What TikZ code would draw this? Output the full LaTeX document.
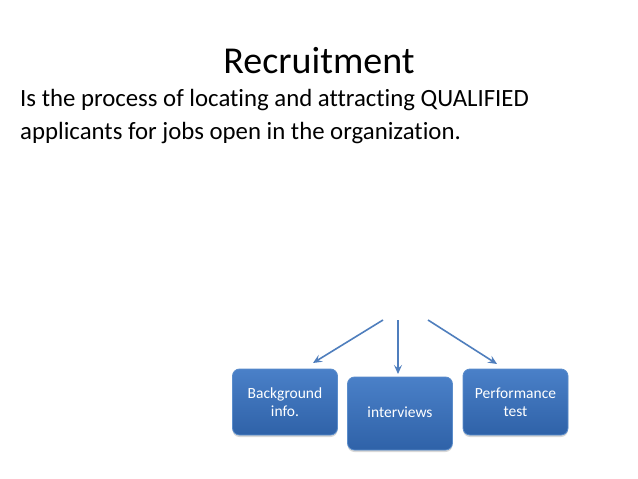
\documentclass[tikz,border=0pt]{standalone}
\usepackage{fontspec}
\setmainfont{Carlito}[RawFeature={-liga;-clig;-calt;-dlig}]
\usetikzlibrary{arrows.meta,shadows}
\definecolor{boxtop}{HTML}{4A80C8}
\definecolor{boxbot}{HTML}{2F62A8}
\definecolor{boxline}{HTML}{5B8DCB}
\definecolor{arrowc}{HTML}{4F7EBD}
\begin{document}
\begin{tikzpicture}[x=1pt,y=-1pt,
  boxnode/.style={draw=boxline, line width=0.8pt, rounded corners=7pt, top color=boxtop, bottom color=boxbot,
    text=white, align=center, font=\fontsize{15.5}{17.5}\selectfont, minimum width=105pt,
    drop shadow={shadow xshift=0pt, shadow yshift=-2pt, opacity=0.3}},
  conn/.style={draw=arrowc, line width=1.6pt, -{Stealth[length=9pt,width=8pt,inset=3.5pt]}}]
\useasboundingbox (0,0) rectangle (638,479);
\fill[white] (0,0) rectangle (638,479);
\node[font=\fontsize{38}{44}\selectfont, anchor=base] (title) at (319,73) {Recruitment};
\node[font=\fontsize{24.8}{33}\selectfont, anchor=north west, align=left, inner sep=0pt] (body) at (20,89)
  {Is the process of locating and attracting QUALIFIED\\applicants for jobs open in the organization.};
\node[boxnode, minimum height=66pt] (b1) at (285,402) {Background\\info.};
\node[boxnode, minimum height=73pt] (b2) at (400,413.5) {\raisebox{3pt}{interviews}};
\node[boxnode, minimum height=66pt] (b3) at (515.5,402) {Performance\\test};
\coordinate (s1) at (383,320);
\coordinate (s2) at (398,320);
\coordinate (s3) at (428,320);
\coordinate (e1) at (313,363);
\coordinate (e2) at (398,374);
\coordinate (e3) at (497,364);
\draw[conn] (s1) -- (e1);
\draw[conn] (s2) -- (e2);
\draw[conn] (s3) -- (e3);
\end{tikzpicture}
\end{document}
